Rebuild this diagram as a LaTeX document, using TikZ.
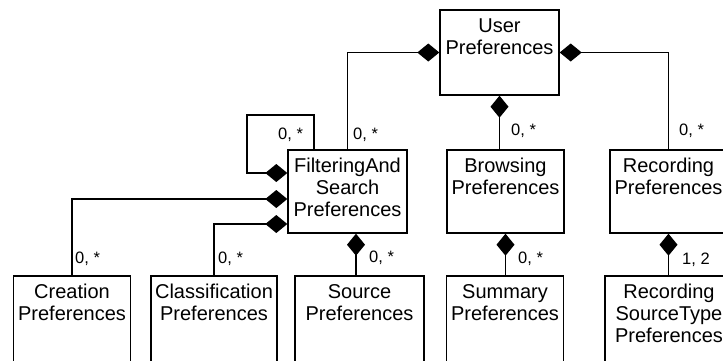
\documentclass[tikz,border=0pt]{standalone}
\usepackage{fontspec}
\setmainfont{Liberation Sans}
\usetikzlibrary{arrows.meta}
\begin{document}
\begin{tikzpicture}[x=1pt,y=-1pt,
  box/.style={draw,line width=1.4pt,inner sep=0pt,minimum width=117pt,minimum height=83pt},
  txt/.style={anchor=base,align=center,inner sep=0pt,font=\fontsize{20}{22}\selectfont},
  lab/.style={anchor=base west,inner sep=0pt,font=\fontsize{16.5}{19}\selectfont},
  comp/.style={line width=1.4pt,{Diamond[length=22pt,width=18pt]}-}]
\useasboundingbox (0,0) rectangle (723,360);
\clip (0,0) rectangle (723,360);
% boxes
\node[box,minimum width=119pt,minimum height=85pt] (user) at (499.5,52.5) {};
\node[box,minimum width=119pt] (fas) at (347.5,191.5) {};
\node[box] (brow) at (505.5,191.5) {};
\node[box] (rec) at (668.5,191.5) {};
\node[box,minimum height=110pt] (crea) at (72,331) {};
\node[box,minimum width=126pt,minimum height=110pt] (clas) at (214,331) {};
\node[box,minimum width=129pt,minimum height=110pt] (src) at (359.5,331) {};
\node[box,minimum height=110pt] (summ) at (505,331) {};
\node[box,minimum width=128pt,minimum height=110pt] (rst) at (669,331) {};
% texts (base anchor = baseline of the last line)
\node[txt] (userT) at ([yshift=-45pt]user.north) {User\\Preferences};
\node[txt] (fasT) at ([yshift=-67pt]fas.north) {FilteringAnd\\Search\\Preferences};
\node[txt] (browT) at ([yshift=-45pt]brow.north) {Browsing\\Preferences};
\node[txt] (recT) at ([yshift=-45pt]rec.north) {Recording\\Preferences};
\node[txt] (creaT) at ([yshift=-45pt]crea.north) {Creation\\Preferences};
\node[txt] (clasT) at ([yshift=-45pt]clas.north) {Classification\\Preferences};
\node[txt] (srcT) at ([yshift=-45pt]src.north) {Source\\Preferences};
\node[txt] (summT) at ([yshift=-45pt]summ.north) {Summary\\Preferences};
\node[txt] (rstT) at ([yshift=-67pt]rst.north) {Recording\\SourceType\\Preferences};
% connectors
\draw[comp] (user.west) -| (fas.north);
\draw[comp] (user.east) -| (rec.north);
\draw[comp] (user.south) -- (user.south |- brow.north);
\draw[comp] ([yshift=18.5pt]fas.west) -| (247,115) -| ([xshift=-33.5pt]fas.north);
\draw[comp] ([yshift=-7.5pt]fas.west) -| (crea.north);
\draw[comp] ([yshift=-32.5pt]fas.west) -| (clas.north);
\draw[comp] ([xshift=8.5pt]fas.south) -- ([xshift=8.5pt]fas.south |- src.north);
\draw[comp] (brow.south) -- (brow.south |- summ.north);
\draw[comp] (rec.south) -- (rec.south |- rst.north);
% multiplicities
\node[lab] (m1) at (278,139) {0, *};
\node[lab] (m2) at (353,139) {0, *};
\node[lab] (m3) at (511,135) {0, *};
\node[lab] (m4) at (679,135) {0, *};
\node[lab] (m5) at (75,263) {0, *};
\node[lab] (m6) at (218,263) {0, *};
\node[lab] (m7) at (369,262) {0, *};
\node[lab] (m8) at (518,263) {0, *};
\node[lab] (m9) at (682,264) {1, 2};
\end{tikzpicture}
\end{document}
